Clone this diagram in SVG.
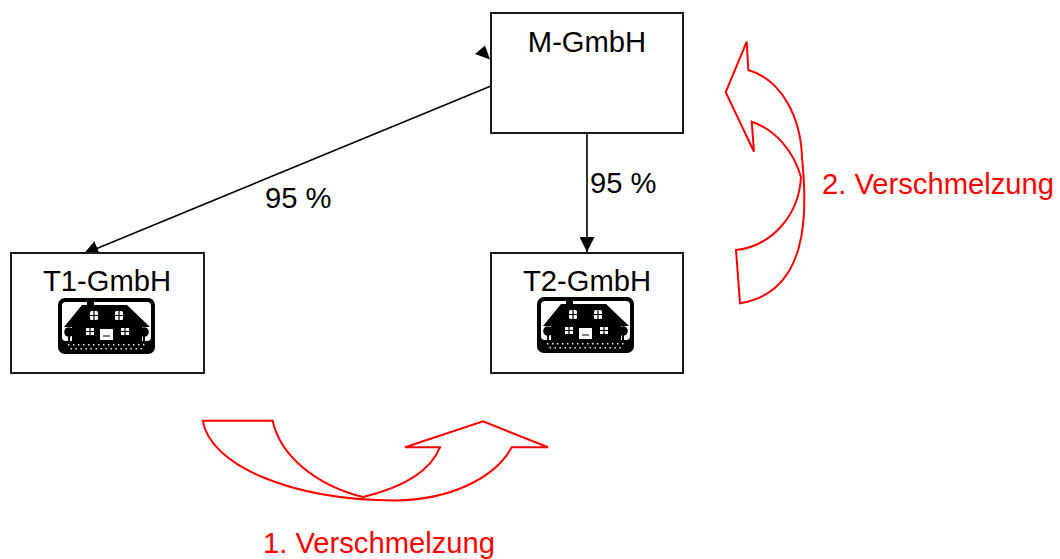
<svg xmlns="http://www.w3.org/2000/svg" xmlns:xlink="http://www.w3.org/1999/xlink" width="1060" height="559" viewBox="0 0 1060 559">
<style>
.box{fill:#fff;stroke:#1a1a1a;stroke-width:2}
.lbl{font-family:"Liberation Sans",Arial,sans-serif;font-size:29.2px;fill:#000}
.red{font-family:"Liberation Sans",Arial,sans-serif;font-size:29.2px;fill:#ff0000}
.con{stroke:#000;stroke-width:1.6;fill:none}
.carrow{fill:none;stroke:#ff0000;stroke-width:2;stroke-linejoin:miter}
</style>
<defs>
<marker id="ah" markerUnits="userSpaceOnUse" viewBox="0 0 15 15" refX="15" refY="7.5" markerWidth="15" markerHeight="15" orient="auto">
<path d="M0,0 L15,7.5 L0,15 Z" fill="#000"/>
</marker>
<g id="house">
<rect x="0" y="0" width="97" height="56" rx="7" fill="#000"/>
<rect x="4" y="4" width="89" height="39" rx="4" fill="#fff"/>
<path d="M24,7 H29 V3.5 H36 V7 H69 L92,29 H84 V43 H14 V29 H6 Z" fill="#000"/>
<g fill="#fff">
<rect x="32" y="13" width="8" height="9" rx="1.5"/>
<rect x="57" y="13" width="8" height="9" rx="1.5"/>
<rect x="28" y="30" width="8" height="7"/>
<rect x="63" y="30" width="8" height="7"/>
<rect x="42" y="31" width="13" height="11"/>
</g>
<g stroke="#000" stroke-width="1.2">
<path d="M36,13 V22 M32,17.5 H40 M61,13 V22 M57,17.5 H65 M32,30 V37 M28,33.5 H36 M67,30 V37 M63,33.5 H71 M45,38 H52"/>
</g>
<circle cx="11" cy="34" r="4.8" fill="#000"/>
<circle cx="86" cy="34" r="4.8" fill="#000"/>
<rect x="10" y="34" width="2" height="9" fill="#000"/>
<rect x="85" y="34" width="2" height="9" fill="#000"/>
<g fill="#fff">
<path d="M10,46h1.4v1.4h-1.4z M15,46h1.4v1.4h-1.4z M20,46h1.4v1.4h-1.4z M25,46h1.4v1.4h-1.4z M30,46h1.4v1.4h-1.4z M35,46h1.4v1.4h-1.4z M40,46h1.4v1.4h-1.4z M45,46h1.4v1.4h-1.4z M50,46h1.4v1.4h-1.4z M55,46h1.4v1.4h-1.4z M60,46h1.4v1.4h-1.4z M65,46h1.4v1.4h-1.4z M70,46h1.4v1.4h-1.4z M75,46h1.4v1.4h-1.4z M80,46h1.4v1.4h-1.4z M85,46h1.4v1.4h-1.4z"/>
<path d="M12.5,50h1.4v1.4h-1.4z M17.5,50h1.4v1.4h-1.4z M22.5,50h1.4v1.4h-1.4z M27.5,50h1.4v1.4h-1.4z M32.5,50h1.4v1.4h-1.4z M37.5,50h1.4v1.4h-1.4z M42.5,50h1.4v1.4h-1.4z M47.5,50h1.4v1.4h-1.4z M52.5,50h1.4v1.4h-1.4z M57.5,50h1.4v1.4h-1.4z M62.5,50h1.4v1.4h-1.4z M67.5,50h1.4v1.4h-1.4z M72.5,50h1.4v1.4h-1.4z M77.5,50h1.4v1.4h-1.4z M82.5,50h1.4v1.4h-1.4z"/>
</g>
</g>
</defs>
<rect width="1060" height="559" fill="#fff"/>
<g id="connectors">
<line class="con" x1="491" y1="86" x2="83.5" y2="254" marker-end="url(#ah)"/>
<line class="con" x1="587" y1="133" x2="587" y2="252" marker-end="url(#ah)"/>
<polygon points="475,54 485,45.5 490,59.5" fill="#000"/>
<text class="lbl" x="265" y="208">95 %</text>
<text class="lbl" x="590" y="193">95 %</text>
</g>
<g id="M-GmbH">
<rect class="box" x="491" y="13" width="192" height="120"/>
<text class="lbl" x="587" y="52" text-anchor="middle">M-GmbH</text>
</g>
<g id="T1-GmbH">
<rect class="box" x="11" y="253" width="193" height="120"/>
<text class="lbl" x="107" y="291" text-anchor="middle">T1-GmbH</text>
<use xlink:href="#house" href="#house" transform="translate(58,298)"/>
</g>
<g id="T2-GmbH">
<rect class="box" x="491" y="253" width="192" height="120"/>
<text class="lbl" x="587" y="291" text-anchor="middle">T2-GmbH</text>
<use xlink:href="#house" href="#house" transform="translate(537,297)"/>
</g>
<g id="merge1">
<path class="carrow" d="M202.7,420.7 H272.7 C280,455 315,485 363,497 C400,488 430,472 440,447.3 H405 L483,421.3 L548,447.3 H511.7 C495,478 450,500 395,500.5 C290,500 210,465 202.7,420.7 Z"/>
<text class="red" x="263" y="553">1. Verschmelzung</text>
</g>
<g id="merge2">
<path class="carrow" d="M736,250 C772,246 799,215 801,177 C794,152 776,130 751.7,121.7 L754,151.7 L725.7,92.3 L746.7,41.7 L748.3,70 C782,80 801,118 802,158 C808,215 808,292 740,303.3 Z"/>
<text class="red" x="822" y="194">2. Verschmelzung</text>
</g>
</svg>
